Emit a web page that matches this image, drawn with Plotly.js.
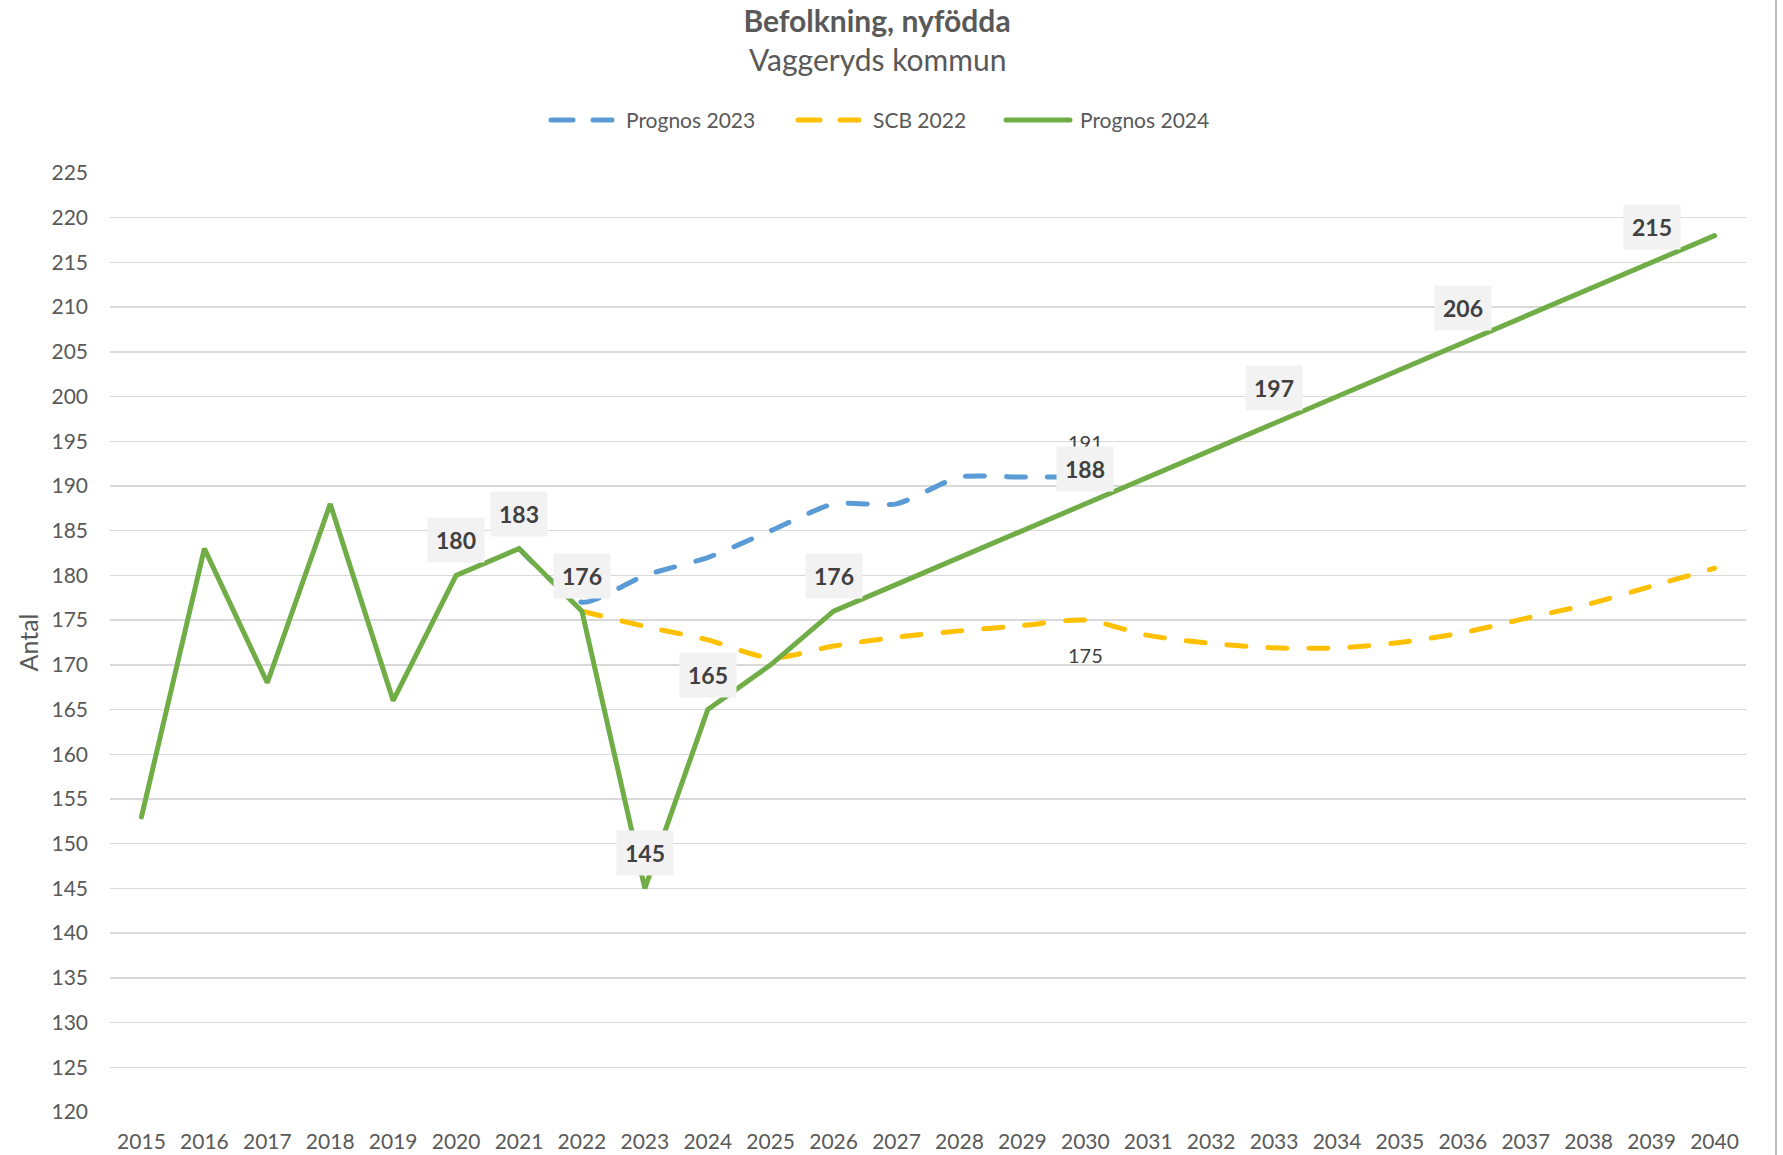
<!DOCTYPE html>
<html>
<head>
<meta charset="utf-8">
<script src="https://cdn.plot.ly/plotly-3.0.1.min.js"></script>
<style>
  html, body { margin: 0; padding: 0; background: #ffffff; }
  #chart { width: 1783px; height: 1155px; }
  .js-line, .shapelayer path { stroke-linecap: round; }
</style>
</head>
<body>
<div id="chart"></div>
<script>
// ---------- data ----------
const years = [2015, 2016, 2017, 2018, 2019, 2020, 2021, 2022, 2023, 2024, 2025, 2026, 2027,
               2028, 2029, 2030, 2031, 2032, 2033, 2034, 2035, 2036, 2037, 2038, 2039, 2040];
const tickLabels = ["2015","2016","2017","2018","2019","2020","2021","2022","2023","2024","2025","2026","2027",
                    "2028","2029","2030","2031","2032","2033","2034","2035","2036","2037","2038","2039","2040"];

const prognos2024 = [153, 183, 168, 188, 166, 180, 183, 176, 145, 165, 170, 176, 179,
                     182, 185, 188, 191, 194, 197, 200, 203, 206, 209, 212, 215, 218];

const prognos2023Years = [2021, 2022, 2023, 2024, 2025, 2026, 2027, 2028, 2029, 2030];
const prognos2023 = [183, 177, 180, 182, 185, 188, 188, 191, 191, 191];

const scb2022Years = [2022, 2023, 2024, 2025, 2026, 2027, 2028, 2029, 2030, 2031,
                      2032, 2033, 2034, 2035, 2036, 2037, 2038, 2039, 2040];
const scb2022 = [176, 174.3, 172.8, 170.8, 172.1, 173.1, 173.8, 174.4, 175, 173.3,
                 172.4, 171.9, 171.9, 172.5, 173.6, 175.2, 176.8, 178.8, 180.8];

const seriesNames = ["Prognos 2023", "SCB 2022", "Prognos 2024"];
const seriesColors = ["#5B9BD5", "#FFC000", "#70AD47"];

// years with boxed labels on Prognos 2024
const labelYears2024 = [2020, 2021, 2022, 2023, 2024, 2026, 2030, 2033, 2036, 2039];
// plain labels on the other series
const labelYear2023 = 2030;
const labelYearScb = 2030;

// ---------- traces ----------
const FONT = "Lato, 'Open Sans', sans-serif";
const dashPattern = "19px,22px";
const lineW = 5;
const traces = [
  { x: prognos2023Years, y: prognos2023, type: "scatter", mode: "lines", name: seriesNames[0],
    line: { color: seriesColors[0], width: lineW, dash: dashPattern, shape: "spline", smoothing: 0.6 },
    hoverinfo: "x+y" },
  { x: scb2022Years, y: scb2022, type: "scatter", mode: "lines", name: seriesNames[1],
    line: { color: seriesColors[1], width: lineW, dash: dashPattern, shape: "spline", smoothing: 0.8 },
    hoverinfo: "x+y" },
  { x: years, y: prognos2024, type: "scatter", mode: "lines", name: seriesNames[2],
    line: { color: seriesColors[2], width: lineW },
    hoverinfo: "x+y" }
];

// ---------- layout helpers ----------
const W = 1783, H = 1155;
const M = { l: 110, r: 37, t: 173, b: 43 };
const plotW = W - M.l - M.r, plotH = H - M.t - M.b;
const px2x = p => (p - M.l) / plotW;
const px2y = p => (H - M.b - p) / plotH;

const annotations = [];

// plain value labels (drawn first so boxes cover them)
annotations.push({
  x: labelYear2023, y: prognos2023[prognos2023Years.indexOf(labelYear2023)],
  text: String(prognos2023[prognos2023Years.indexOf(labelYear2023)]),
  xref: "x", yref: "y", showarrow: false, yshift: 35,
  font: { family: FONT, size: 20, color: "#404040" }
});
annotations.push({
  x: labelYearScb, y: scb2022[scb2022Years.indexOf(labelYearScb)],
  text: String(Math.round(scb2022[scb2022Years.indexOf(labelYearScb)])),
  xref: "x", yref: "y", showarrow: false, yshift: -35,
  font: { family: FONT, size: 20, color: "#404040" }
});

// boxed labels on Prognos 2024
labelYears2024.forEach(yr => {
  const v = prognos2024[years.indexOf(yr)];
  annotations.push({
    x: yr, y: v, text: String(v), xref: "x", yref: "y", showarrow: false, yshift: 35,
    bgcolor: "#F2F2F2", borderpad: 8,
    font: { family: FONT, size: 23, color: "#404040", weight: 700 }
  });
});

// subtitle
annotations.push({
  xref: "paper", yref: "paper", x: px2x(877), y: px2y(59), xanchor: "center", yanchor: "middle",
  showarrow: false, text: "Vaggeryds kommun",
  font: { family: FONT, size: 30, color: "#595959" }
});

// custom legend (long line samples)
const legendItems = [
  { x0: 551, x1: 612, tx: 624 },
  { x0: 798, x1: 859, tx: 871 },
  { x0: 1006, x1: 1070, tx: 1078 }
];
const legendY = 120;
const shapes = [];
legendItems.forEach((it, i) => {
  shapes.push({
    type: "line", xref: "paper", yref: "paper",
    x0: px2x(it.x0), x1: px2x(it.x1), y0: px2y(legendY), y1: px2y(legendY),
    line: { color: seriesColors[i], width: lineW, dash: i < 2 ? "22px,20px" : "solid" }
  });
  annotations.push({
    xref: "paper", yref: "paper", x: px2x(it.tx), y: px2y(legendY), xanchor: "left", yanchor: "middle",
    showarrow: false, text: seriesNames[i],
    font: { family: FONT, size: 21, color: "#595959" }
  });
});

// right chart-area border
shapes.push({
  type: "line", xref: "paper", yref: "paper",
  x0: px2x(1776), x1: px2x(1776), y0: px2y(H), y1: px2y(0),
  line: { color: "#BFBFBF", width: 2 }
});

const layout = {
  width: W, height: H,
  margin: M,
  paper_bgcolor: "#ffffff", plot_bgcolor: "#ffffff",
  showlegend: false,
  title: {
    text: "Befolkning, nyfödda",
    x: 877 / W, xref: "container", xanchor: "center",
    y: 1 - 21 / H, yref: "container", yanchor: "middle",
    font: { family: FONT, size: 30, color: "#595959", weight: 700 }
  },
  xaxis: {
    range: [2014.5, 2040.5],
    tickmode: "array", tickvals: years, ticktext: tickLabels,
    showgrid: false, zeroline: false, showline: false,
    ticks: "", ticklabelstandoff: 15,
    tickfont: { family: FONT, size: 21, color: "#595959" },
    fixedrange: true
  },
  yaxis: {
    range: [120, 225], dtick: 5, tick0: 120,
    showgrid: true, gridcolor: "#D9D9D9", gridwidth: 1.5,
    zeroline: false, showline: false, ticks: "", ticklabelstandoff: 21,
    tickfont: { family: FONT, size: 21, color: "#595959" },
    title: { text: "Antal", standoff: 5,
             font: { family: FONT, size: 25, color: "#595959" } },
    fixedrange: true
  },
  annotations: annotations,
  shapes: shapes
};

Plotly.newPlot("chart", traces, layout, { displayModeBar: false, staticPlot: true });
</script>
</body>
</html>
